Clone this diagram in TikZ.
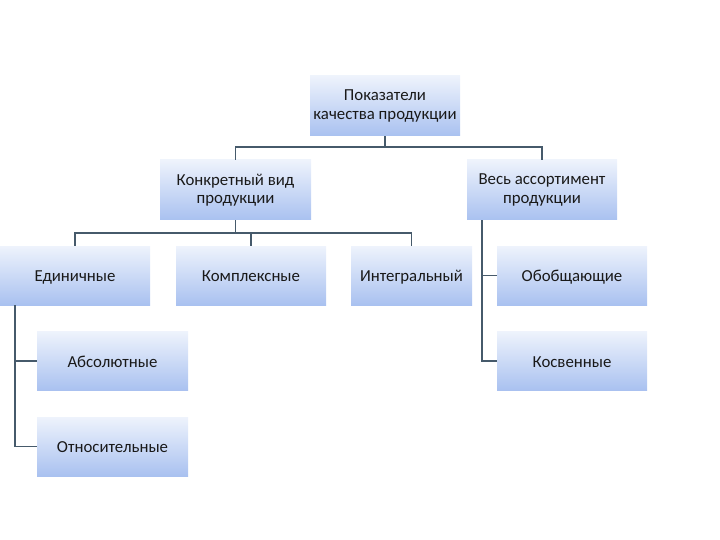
\documentclass[tikz,border=0pt]{standalone}
\usepackage{fontspec}
\setmainfont{Carlito}
\definecolor{boxtop}{HTML}{EEF3FC}
\definecolor{boxbot}{HTML}{A9C1F0}
\definecolor{linec}{HTML}{465A6B}
\begin{document}
\begin{tikzpicture}[x=1pt,y=-1pt,
  box/.style={rectangle, top color=boxtop, bottom color=boxbot, draw=none,
    minimum width=150pt, minimum height=59pt, inner sep=1pt, align=center,
    text height=13pt, text depth=1pt,
    font=\fontsize{16.8}{18.5}\selectfont, text=black!90},
  twoline/.style={text height=, text depth=, minimum height=60pt},
  conn/.style={draw=linec, line width=1.9pt}]
\useasboundingbox (0,0) rectangle (720,540);
\node[box, twoline] (top) at (385,106) {Показатели\\качества продукции};
\node[box, twoline, minimum width=151pt] (konk) at (235.5,190) {Конкретный вид\\продукции};
\node[box, twoline] (ves) at (542,190) {Весь ассортимент\\продукции};
\node[box] (edin) at (75,275.5) {Единичные};
\node[box] (kompl) at (251,275.5) {Комплексные};
\node[box, minimum width=121pt] (integ) at (411.5,275.5) {Интегральный};
\node[box] (obob) at (572,275.5) {Обобщающие};
\node[box, minimum width=151pt] (abs) at (112.5,361) {Абсолютные};
\node[box, minimum width=151pt] (otn) at (112.5,446.5) {Относительные};
\node[box] (kosv) at (572,361) {Косвенные};
\draw[conn] (top.south) -- ++(0,11) coordinate (j1);
\draw[conn] (j1) -| (konk.north);
\draw[conn] (j1) -| (ves.north);
\draw[conn] (konk.south) -- ++(0,13) coordinate (j2);
\draw[conn] (j2) -| (edin.north);
\draw[conn] (j2) -| (kompl.north);
\draw[conn] (j2) -| (integ.north);
\draw[conn] ([xshift=15pt]ves.south west) |- (obob.west);
\draw[conn] ([xshift=15pt]ves.south west) |- (kosv.west);
\draw[conn] ([xshift=15pt]edin.south west) |- (abs.west);
\draw[conn] ([xshift=15pt]edin.south west) |- (otn.west);
\end{tikzpicture}
\end{document}
